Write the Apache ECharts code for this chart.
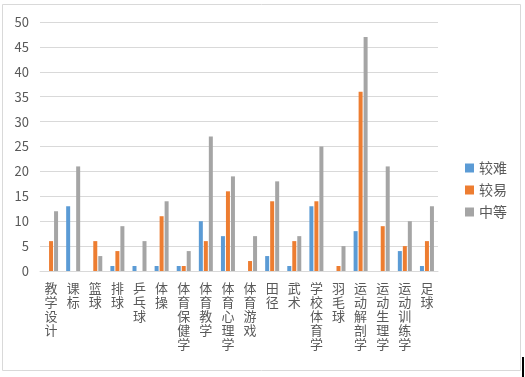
<!DOCTYPE html>
<html>
<head>
<meta charset="utf-8">
<script src="https://cdn.jsdelivr.net/npm/echarts@6/dist/echarts.min.js"></script>
<style>
html, body { margin: 0; padding: 0; background: #fff; }
#chart { width: 525px; height: 377px; }
</style>
</head>
<body>
<div id="chart"></div>
<script>
var categories = ['教学设计', '课标', '篮球', '排球', '乒乓球', '体操', '体育保健学', '体育教学', '体育心理学',
	'体育游戏', '田径', '武术', '学校体育学', '羽毛球', '运动解剖学', '运动生理学', '运动训练学', '足球'];
var hardValues = [0, 13, 0, 1, 1, 1, 1, 10, 7, 0, 3, 1, 13, 0, 8, 0, 4, 1];
var easyValues = [6, 0, 6, 4, 0, 11, 1, 6, 16, 2, 14, 6, 14, 1, 36, 9, 5, 6];
var midValues = [12, 21, 3, 9, 6, 14, 4, 27, 19, 7, 18, 7, 25, 5, 47, 21, 10, 13];
var seriesNames = ['较难', '较易', '中等'];

var font = '"Microsoft YaHei", "Noto Sans CJK SC", sans-serif';
var chart = echarts.init(document.getElementById('chart'));

function makeBar(name, data, color){
	return {
		name: name,
		type: 'bar',
		data: data,
		barWidth: 4,
		barGap: '25%',
		itemStyle: { color: color }
	};
}

chart.setOption({
	animation: false,
	graphic: [
		{ type: 'rect', shape: { x: 2.5, y: 4.5, width: 518, height: 366 },
			style: { fill: 'none', stroke: '#d9d9d9', lineWidth: 1 } },
		{ type: 'rect', shape: { x: 522, y: 357, width: 2, height: 20 },
			style: { fill: '#000' } }
	],
	grid: { left: 40, right: 87, top: 22, bottom: 106 },
	legend: {
		orient: 'vertical',
		left: 460,
		top: 156,
		itemWidth: 9,
		itemHeight: 9,
		itemGap: 8,
		icon: 'rect',
		textStyle: { color: '#595959', fontSize: 14, fontFamily: font },
		data: seriesNames
	},
	xAxis: {
		type: 'category',
		data: categories,
		axisLine: { lineStyle: { color: '#d9d9d9' } },
		axisTick: { show: false },
		axisLabel: {
			interval: 0,
			color: '#595959',
			fontSize: 13,
			fontFamily: font,
			lineHeight: 14,
			verticalAlign: 'top',
			margin: 10,
			width: 60,
			overflow: 'none',
			formatter: function(v){ return v.split('').join('\n'); }
		}
	},
	yAxis: {
		type: 'value',
		min: 0,
		max: 50,
		interval: 5,
		axisLine: { show: false },
		axisTick: { show: false },
		splitLine: { lineStyle: { color: '#d9d9d9' } },
		axisLabel: { color: '#595959', fontSize: 13, fontFamily: font, margin: 11 }
	},
	series: [
		makeBar(seriesNames[0], hardValues, '#5b9bd5'),
		makeBar(seriesNames[1], easyValues, '#ed7d31'),
		makeBar(seriesNames[2], midValues, '#a5a5a5')
	]
});
</script>
</body>
</html>
